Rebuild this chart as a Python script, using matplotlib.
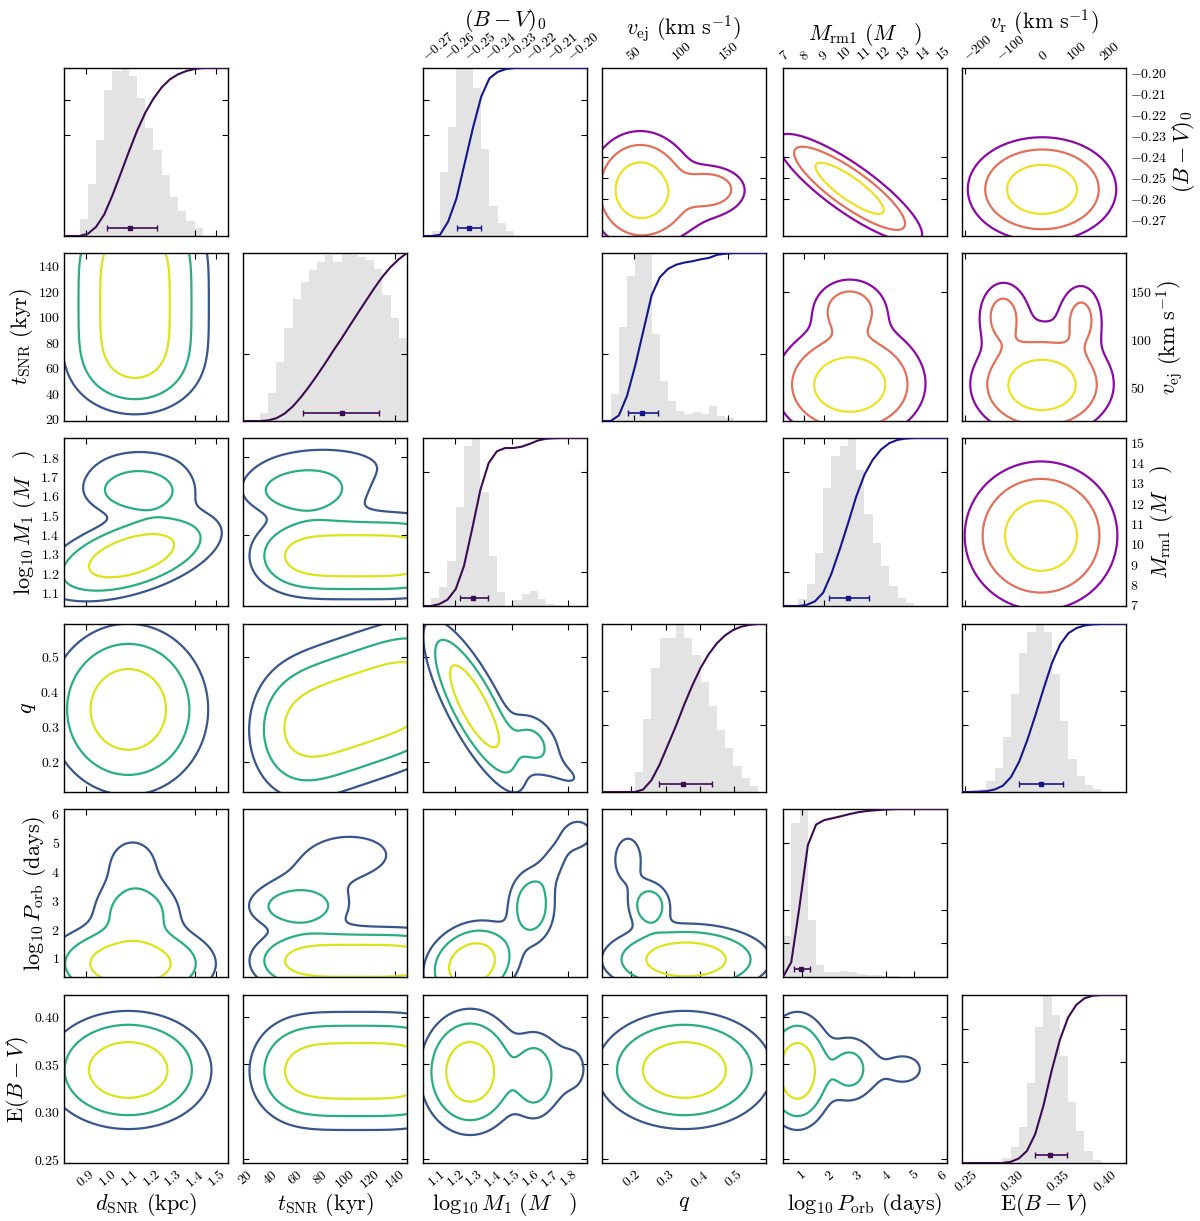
import numpy as np
import matplotlib
matplotlib.use("Agg")
import matplotlib.pyplot as plt
from matplotlib.ticker import FixedLocator, FixedFormatter

plt.rcParams["mathtext.fontset"] = "cm"
plt.rcParams["font.family"] = ["DejaVu Serif"]

# ---------------- data ----------------
MAIN = ["d", "t", "m", "q", "P", "E"]
UPPER = ["B", "v", "M", "r"]

RANGES = {
    "d": (0.80, 1.553), "t": (18.4, 150.0), "m": (1.03, 1.90), "q": (0.114, 0.594),
    "P": (0.34, 6.17), "E": (0.246, 0.423), "B": (-0.2776, -0.198), "v": (15.6, 190.0),
    "M": (6.95, 15.2), "r": (-248.0, 250.0),
}

LABELS = {
    "d": r"$d_{\rm SNR}\ \mathrm{(kpc)}$",
    "t": r"$t_{\rm SNR}\ \mathrm{(kyr)}$",
    "m": r"$\log_{10}M_1\ (M\ \ \ )$",
    "q": r"$q$",
    "P": r"$\log_{10}P_{\rm orb}\ \mathrm{(days)}$",
    "E": r"$\mathrm{E}(B-V)$",
    "B": r"$(B-V)_0$",
    "v": r"$v_{\rm ej}\ (\mathrm{km\ s^{-1}})$",
    "M": r"$M_{\rm rm1}\ (M\ \ \ )$",
    "r": r"$v_{\rm r}\ (\mathrm{km\ s^{-1}})$",
}

TICK_LABELS = {
    "d": ["0.9", "1.0", "1.1", "1.2", "1.3", "1.4", "1.5"],
    "t": ["20", "40", "60", "80", "100", "120", "140"],
    "m": ["1.1", "1.2", "1.3", "1.4", "1.5", "1.6", "1.7", "1.8"],
    "q": ["0.2", "0.3", "0.4", "0.5"],
    "P": ["1", "2", "3", "4", "5", "6"],
    "E": ["0.25", "0.30", "0.35", "0.40"],
    "B": ["-0.27", "-0.26", "-0.25", "-0.24", "-0.23", "-0.22", "-0.21", "-0.20"],
    "v": ["50", "100", "150"],
    "M": ["7", "8", "9", "10", "11", "12", "13", "14", "15"],
    "r": ["-200", "-100", "0", "100", "200"],
}

XMARKS = {"d": [0.9, 1.4, 1.5], "t": [140], "m": [1.2, 1.5, 1.8], "q": [0.2, 0.3, 0.4, 0.5],
          "P": [1, 4, 5], "E": [], "B": [], "v": [50, 150], "M": [8, 9], "r": [-240]}
YMARKS = {"t": [], "m": [1.4, 1.8], "q": [0.2, 0.5], "P": [], "E": [0.25, 0.35, 0.40],
          "B": [-0.24, -0.25, -0.26], "v": [150], "M": []}
HIST_MARKS = {"d": [0.6, 0.81], "t": [0.4], "m": [0.2, 0.8], "q": [0.4, 0.6], "P": [0.2, 0.4, 0.8],
              "E": [0.6, 0.8], "B": [0.6, 0.81], "v": [0.4], "M": [0.2, 0.8], "r": [0.4, 0.6]}

# histograms: first bin edge, bin width, bar heights (relative to tallest bar)
HIST_START = {"d": 0.8716, "t": 32.0, "m": 1.0725, "q": 0.2106, "P": 0.34, "E": 0.2895,
              "B": -0.2734, "v": 24.8, "M": 7.72, "r": -223.6}
HIST_WIDTH = {"d": 0.0377, "t": 6.55, "m": 0.0437, "q": 0.024, "P": 0.294, "E": 0.00887,
              "B": 0.00401, "v": 8.72, "M": 0.416, "r": 24.9}
hist_d = [0.10, 0.31, 0.57, 0.87, 0.98, 1.0, 0.954, 0.82, 0.644, 0.51, 0.364, 0.23, 0.15, 0.09, 0.046]
hist_t = [0.046, 0.169, 0.354, 0.553, 0.728, 0.827, 0.897, 0.944, 0.990, 0.944, 1.0, 0.986, 0.976,
          0.960, 0.903, 0.751, 0.612, 0.493]
hist_m = [0.048, 0.113, 0.27, 0.59, 0.95, 1.0, 0.677, 0.30, 0.083, 0.0, 0.034, 0.073, 0.087, 0.044,
          0.014, 0.004]
hist_q = [0.119, 0.434, 0.737, 0.915, 0.915, 0.994, 0.915, 0.816, 0.657, 0.51, 0.37, 0.26, 0.152,
          0.083, 0.038]
hist_P = [0.245, 0.915, 1.0, 0.34, 0.074, 0.03, 0.032, 0.034, 0.03, 0.02, 0.012, 0.01, 0.008, 0.005]
hist_E = [0.032, 0.096, 0.217, 0.479, 0.81, 1.0, 0.883, 0.638, 0.362, 0.19, 0.074, 0.02]
hist_B = [0.03, 0.38, 0.65, 1.0, 1.0, 0.88, 0.52, 0.18, 0.08, 0.03]
hist_v = [0.158, 0.56, 0.865, 1.0, 1.0, 0.515, 0.238, 0.119, 0.06, 0.04, 0.053, 0.04, 0.09, 0.03, 0.02]
hist_M = [0.04, 0.13, 0.317, 0.70, 0.89, 0.955, 1.0, 0.81, 0.55, 0.376, 0.238, 0.119, 0.05, 0.02]
hist_r = [0.01, 0.02, 0.064, 0.143, 0.33, 0.585, 0.826, 0.953, 1.0, 0.953, 0.70, 0.42, 0.196, 0.096,
          0.04, 0.015]
HISTS = {"d": hist_d, "t": hist_t, "m": hist_m, "q": hist_q, "P": hist_P, "E": hist_E,
         "B": hist_B, "v": hist_v, "M": hist_M, "r": hist_r}

# median and 68% interval (center, low, high)
ERRBAR = {"d": (1.104, 0.996, 1.226), "t": (97.5, 66.8, 127.7), "m": (1.297, 1.226, 1.373),
          "q": (0.352, 0.282, 0.435), "P": (0.97, 0.73, 1.30), "E": (0.341, 0.325, 0.359),
          "B": (-0.2554, -0.2610, -0.2493), "v": (57.7, 43.5, 75.4), "M": (10.22, 9.26, 11.28),
          "r": (-8.7, -74.0, 58.0)}

# 2D density model: gaussian components (mean_x, mean_y, sigma_x, sigma_y, rho, weight)
T_CENTERS = [60, 85, 110, 135, 160]
Q_TILT = [0.29, 0.32, 0.35, 0.38, 0.41]
COMPONENTS = {
    ("d", "t"): [(1.126, tc, 0.158, 20, 0, 0.5) for tc in T_CENTERS],
    ("d", "m"): [(1.110, 1.29, 0.193, 0.11, 0.5, 1.0), (1.141, 1.62, 0.14, 0.075, 0.0, 0.42),
                 (1.15, 1.76, 0.2, 0.09, 0.0, 0.12)],
    ("t", "m"): [(tc, 1.29, 20, 0.105, 0, 0.5) for tc in T_CENTERS]
                + [(66, 1.62, 27, 0.075, 0, 0.42), (85, 1.76, 45, 0.09, 0, 0.14)],
    ("d", "q"): [(1.095, 0.35, 0.171, 0.114, 0, 1.0)],
    ("t", "q"): [(tc, qc, 20, 0.1, 0, 0.5) for tc, qc in zip(T_CENTERS, Q_TILT)],
    ("m", "q"): [(1.30, 0.36, 0.125, 0.115, -0.8, 1.0), (1.61, 0.255, 0.085, 0.05, -0.3, 0.33),
                 (1.80, 0.16, 0.1, 0.04, -0.5, 0.1)],
    ("d", "P"): [(1.105, 0.8, 0.183, 0.68, 0, 1.0), (1.136, 2.6, 0.11, 0.6, 0, 0.4),
                 (1.115, 4.2, 0.11, 0.9, 0, 0.15)],
    ("t", "P"): [(tc, 0.9, 20, 0.55, 0, 0.5) for tc in T_CENTERS]
                + [(62, 2.75, 22, 0.45, 0, 0.40), (70, 3.6, 30, 0.7, 0, 0.10), (105, 4.6, 28, 0.6, 0, 0.16)],
    ("m", "P"): [(1.29, 0.8, 0.12, 0.7, 0.2, 1.0), (1.605, 2.78, 0.07, 0.72, 0, 0.45),
                 (1.72, 4.3, 0.07, 0.7, 0.5, 0.14), (1.86, 5.3, 0.07, 0.45, 0, 0.14)],
    ("q", "P"): [(0.36, 0.95, 0.115, 0.58, 0, 1.0), (0.255, 2.8, 0.033, 0.45, 0, 0.45),
                 (0.19, 4.4, 0.045, 0.9, 0, 0.14)],
    ("d", "E"): [(1.095, 0.344, 0.178, 0.029, 0, 1.0)],
    ("t", "E"): [(tc, 0.343, 20, 0.029, 0, 0.5) for tc in T_CENTERS],
    ("m", "E"): [(1.28, 0.342, 0.125, 0.031, 0, 1.0), (1.62, 0.338, 0.07, 0.025, 0, 0.45),
                 (1.82, 0.345, 0.1, 0.03, 0, 0.12)],
    ("q", "E"): [(0.355, 0.344, 0.12, 0.029, 0, 1.0)],
    ("P", "E"): [(0.85, 0.343, 0.6, 0.029, 0, 1.0), (2.7, 0.345, 0.5, 0.02, 0, 0.35),
                 (4.6, 0.345, 1.0, 0.022, 0, 0.12)],
    ("v", "B"): [(56, -0.2555, 26, 0.013, 0, 1.0), (130, -0.2552, 19, 0.0055, 0, 0.45),
                 (105, -0.262, 45, 0.012, 0, 0.12)],
    ("M", "B"): [(10.3, -0.255, 1.7, 0.012, -0.85, 1.0)],
    ("r", "B"): [(-5, -0.2555, 105, 0.0115, 0, 1.0)],
    ("M", "v"): [(10.3, 52, 1.75, 27, 0, 1.0), (10.3, 132, 0.95, 17, 0, 0.42), (10.5, 95, 2.2, 40, 0, 0.08)],
    ("r", "v"): [(-5, 52, 100, 25, 0, 1.0), (-125, 125, 40, 20, 0, 0.35), (115, 122, 35, 20, 0, 0.33),
                 (-5, 100, 130, 45, 0, 0.08)],
    ("r", "M"): [(-8, 10.4, 108, 1.7, 0, 1.0)],
}
LEVELS = [0.10, 0.26, 0.60]

# ---------------- style ----------------
VIRIDIS3 = ["#39568c", "#29af7f", "#dce319"]
PLASMA3 = ["#8b0aa5", "#e3705a", "#eee024"]
HIST_COLOR = "#e3e3e3"
CDF_MAIN = "#3d0b52"
CDF_UPPER = "#16168c"

W, H = 1200, 1221
COL_LEFT = [64, 243, 423, 602, 783, 962]
ROW_TOP = [68, 253, 438, 624, 809, 995]
PW, PH = 164, 168
TICK_FS = 10
LABEL_FS = 16

fig = plt.figure(figsize=(W / 100, H / 100), dpi=100)


def make_ax(i, j):
    return fig.add_axes([COL_LEFT[j] / W, 1 - (ROW_TOP[i] + PH) / H, PW / W, PH / H])


def math(s):
    return "$" + s + "$"


def base_ticks(ax, xmarks, ymarks):
    ax.tick_params(which="both", direction="in", top=True, right=True, bottom=True, left=True,
                   labelbottom=False, labelleft=False, labeltop=False, labelright=False)
    ax.tick_params(which="minor", length=4, width=0.8)
    ax.tick_params(which="major", length=0, pad=3, labelsize=TICK_FS)
    ax.xaxis.set_minor_locator(FixedLocator(xmarks))
    ax.yaxis.set_minor_locator(FixedLocator(ymarks))
    ax.xaxis.set_major_locator(FixedLocator([]))
    ax.yaxis.set_major_locator(FixedLocator([]))
    for s in ax.spines.values():
        s.set_linewidth(1.0)


def label_x(ax, var, where):
    vals = [float(s) for s in TICK_LABELS[var]]
    ax.xaxis.set_major_locator(FixedLocator(vals))
    ax.xaxis.set_major_formatter(FixedFormatter([math(s) for s in TICK_LABELS[var]]))
    if where == "bottom":
        ax.tick_params(which="major", labelbottom=True)
        ax.set_xlabel(LABELS[var], fontsize=LABEL_FS)
        ax.xaxis.set_label_coords(0.5, -0.165)
    else:
        ax.tick_params(which="major", labeltop=True)
        ax.xaxis.set_label_position("top")
        ax.set_xlabel(LABELS[var], fontsize=LABEL_FS, labelpad=2)
    for t in ax.get_xticklabels():
        t.set_rotation(40)
        t.set_ha("center")


def label_y(ax, var, where):
    vals = [float(s) for s in TICK_LABELS[var]]
    ax.yaxis.set_major_locator(FixedLocator(vals))
    ax.yaxis.set_major_formatter(FixedFormatter([math(s) for s in TICK_LABELS[var]]))
    if where == "left":
        ax.tick_params(which="major", labelleft=True)
        ax.set_ylabel(LABELS[var], fontsize=LABEL_FS, labelpad=2)
    else:
        ax.tick_params(which="major", labelright=True)
        ax.yaxis.set_label_position("right")
        ax.set_ylabel(LABELS[var], fontsize=LABEL_FS, labelpad=2)


def draw_hist(ax, var, cdf_color):
    lo, hi = RANGES[var]
    h = np.array(HISTS[var])
    edges = HIST_START[var] + HIST_WIDTH[var] * np.arange(len(h) + 1)
    ax.bar(edges[:-1], h, width=HIST_WIDTH[var], align="edge", color=HIST_COLOR, lw=0)
    cum = np.concatenate([[0.0], np.cumsum(h)]) / h.sum()
    xs = np.concatenate([[lo], edges, [hi]])
    ys = np.concatenate([[0.0], cum, [1.0]])
    ax.plot(xs, ys, color=cdf_color, lw=1.5, zorder=3)
    c, a, b = ERRBAR[var]
    ax.errorbar([c], [0.05], xerr=[[c - a], [b - c]], fmt="s", ms=3.5, color=cdf_color,
                ecolor=cdf_color, lw=1.2, capsize=2, zorder=4)
    ax.set_xlim(lo, hi)
    ax.set_ylim(0, 1.0)
    base_ticks(ax, XMARKS[var], HIST_MARKS[var])


def draw_contour(ax, xv, yv, colors):
    xlo, xhi = RANGES[xv]
    ylo, yhi = RANGES[yv]
    dx, dy = xhi - xlo, yhi - ylo
    gx = np.linspace(xlo - 0.3 * dx, xhi + 0.3 * dx, 360)
    gy = np.linspace(ylo - 0.3 * dy, yhi + 0.3 * dy, 360)
    X, Y = np.meshgrid(gx, gy)
    Z = np.zeros_like(X)
    for mx, my, sx, sy, rho, w in COMPONENTS[(xv, yv)]:
        u = (X - mx) / sx
        v = (Y - my) / sy
        Z += w * np.exp(-0.5 * (u * u - 2 * rho * u * v + v * v) / (1 - rho * rho))
    Z /= Z.max()
    ax.contour(X, Y, Z, levels=LEVELS, colors=colors, linewidths=1.6)
    ax.set_xlim(xlo, xhi)
    ax.set_ylim(ylo, yhi)
    base_ticks(ax, XMARKS[xv], YMARKS.get(yv, []))


# main corner
for i, yv in enumerate(MAIN):
    for j, xv in enumerate(MAIN):
        if j > i:
            continue
        ax = make_ax(i, j)
        if i == j:
            draw_hist(ax, xv, CDF_MAIN)
        else:
            draw_contour(ax, xv, yv, VIRIDIS3)
        if i == 5:
            label_x(ax, xv, "bottom")
        if j == 0 and i > 0:
            label_y(ax, yv, "left")

# upper sub-corner (rows 0-3, cols 2-5)
for a, yv in enumerate(UPPER):
    for b, xv in enumerate(UPPER):
        if b < a:
            continue
        i, j = a, b + 2
        ax = make_ax(i, j)
        if a == b:
            draw_hist(ax, xv, CDF_UPPER)
        else:
            draw_contour(ax, xv, yv, PLASMA3)
        if i == 0:
            label_x(ax, xv, "top")
        if j == 5 and a != b:
            label_y(ax, yv, "right")

fig.savefig("out.png", dpi=100)
